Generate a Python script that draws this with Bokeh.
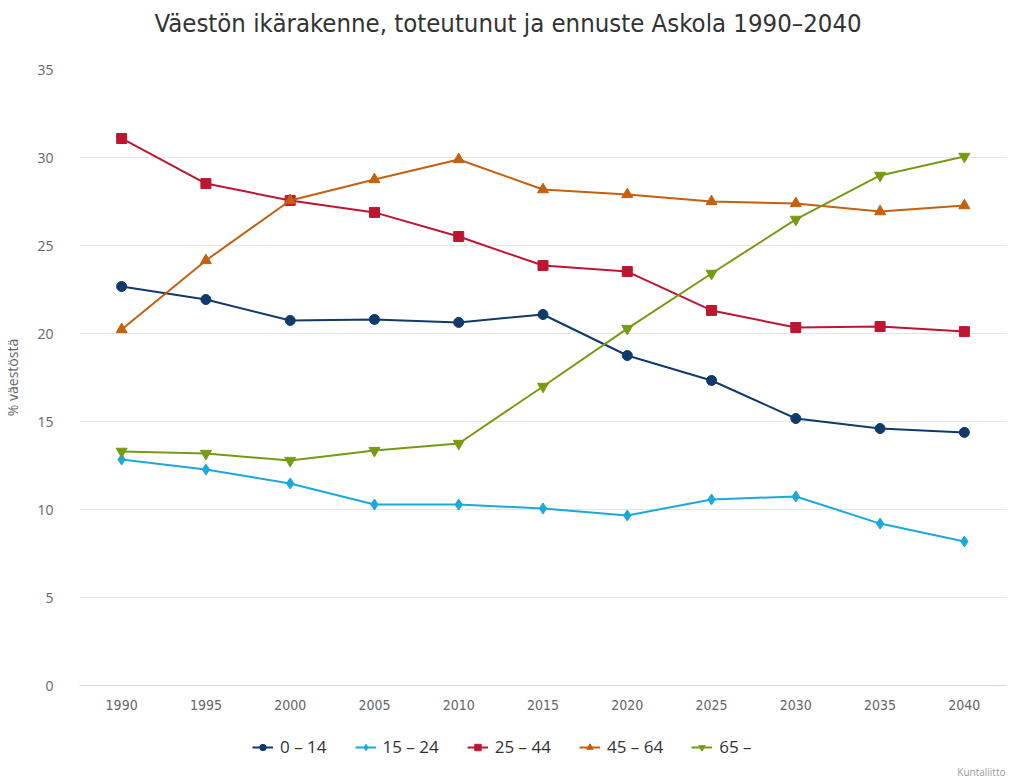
from bokeh.plotting import figure
from bokeh.layouts import column
from bokeh.models import Legend, LegendItem, Label, Range1d, FixedTicker
from bokeh.embed import file_html
from bokeh.resources import INLINE

years = [1990, 1995, 2000, 2005, 2010, 2015, 2020, 2025, 2030, 2035, 2040]
age_0_14 = [22.67, 21.93, 20.74, 20.80, 20.63, 21.08, 18.75, 17.33, 15.17, 14.60, 14.38]
age_15_24 = [12.84, 12.27, 11.48, 10.28, 10.28, 10.06, 9.66, 10.57, 10.74, 9.20, 8.18]
age_25_44 = [31.08, 28.52, 27.56, 26.88, 25.51, 23.86, 23.52, 21.31, 20.34, 20.40, 20.11]
age_45_64 = [20.23, 24.15, 27.56, 28.75, 29.89, 28.18, 27.90, 27.50, 27.39, 26.93, 27.27]
age_65 = [13.30, 13.18, 12.78, 13.35, 13.75, 16.99, 20.28, 23.41, 26.48, 28.98, 30.06]
y_ticks = [0, 5, 10, 15, 20, 25, 30, 35]

series_names = ["0 – 14", "15 – 24", "25 – 44", "45 – 64", "65 –"]
series_values = [age_0_14, age_15_24, age_25_44, age_45_64, age_65]
colors = ["#0f3a6b", "#1ba9dc", "#be1531", "#c4600e", "#769b13"]
markers = ["circle", "diamond", "square", "triangle", "inverted_triangle"]
msizes = [10, 11, 10, 11, 11]

title_text = "Väestön ikärakenne, toteutunut ja ennuste Askola 1990–2040"


def strip(height):
    f = figure(width=1008, height=height, output_backend="svg", toolbar_location=None,
               x_range=Range1d(1987.5, 2042.5), y_range=Range1d(0, 35),
               min_border=0, x_axis_location=None, y_axis_location=None)
    f.outline_line_color = None
    f.xgrid.grid_line_color = None
    f.ygrid.grid_line_color = None
    return f


# title strip
t = strip(45)
t.add_layout(Label(x=75, y=23, x_units="screen", y_units="screen", text=title_text,
                   text_font="DejaVu Sans Condensed", text_font_size="25.5px",
                   text_color="#333333", text_align="left", text_baseline="middle"))

# main chart
p = figure(width=1008, height=675, output_backend="svg", toolbar_location=None,
           x_range=Range1d(1987.5, 2042.5), y_range=Range1d(0, 35),
           min_border_left=78, min_border_right=2, min_border_top=24, min_border_bottom=35)
p.outline_line_color = None
p.background_fill_color = "white"

for name, vals, col, mk, ms in zip(series_names, series_values, colors, markers, msizes):
    p.line(years, vals, line_color=col, line_width=2)
    p.scatter(years, vals, marker=mk, size=ms, fill_color=col, line_color=col)

p.xaxis.ticker = FixedTicker(ticks=years)
p.xaxis.axis_line_color = "#ccd6eb"
p.xaxis.axis_line_width = 1
p.xaxis.major_tick_line_color = None
p.xaxis.minor_tick_line_color = None
p.xaxis.major_label_text_font = "DejaVu Sans Condensed"
p.xaxis.major_label_text_font_size = "14px"
p.xaxis.major_label_text_color = "#666666"
p.xaxis.major_label_standoff = 8

p.yaxis.ticker = FixedTicker(ticks=y_ticks)
p.yaxis.axis_line_color = None
p.yaxis.major_tick_line_color = None
p.yaxis.minor_tick_line_color = None
p.yaxis.major_label_text_font = "Open Sans"
p.yaxis.major_label_text_font_size = "14px"
p.yaxis.major_label_text_color = "#666666"
p.yaxis.major_label_standoff = 20
p.yaxis.axis_label = "% väestöstä"
p.yaxis.axis_label_text_font = "Open Sans"
p.yaxis.axis_label_text_font_size = "14px"
p.yaxis.axis_label_text_font_style = "normal"
p.yaxis.axis_label_text_color = "#666666"
p.yaxis.axis_label_standoff = 12

p.xgrid.grid_line_color = None
p.ygrid.grid_line_color = "#e6e6e6"
p.ygrid.grid_line_width = 1

# legend strip below the chart
q = strip(58)
items = []
for name, vals, col, mk, ms in zip(series_names, series_values, colors, markers, msizes):
    ln = q.line(years, vals, line_color=col, line_width=2, visible=False)
    sc = q.scatter(years, vals, marker=mk, size=ms, fill_color=col, line_color=col, visible=False)
    items.append(LegendItem(label=name, renderers=[ln, sc]))

legend = Legend(items=items, orientation="horizontal", location=(173, 20),
                border_line_color=None, background_fill_alpha=0,
                inactive_fill_alpha=0,
                label_text_font="Open Sans", label_text_font_size="17px",
                label_text_color="#333333", glyph_width=21, glyph_height=16,
                label_standoff=7, spacing=28, margin=0, padding=4)
q.add_layout(legend, "center")

credit = Label(x=926, y=7, x_units="screen", y_units="screen", text="Kuntaliitto",
               text_font="Open Sans", text_font_size="10px", text_color="#999999",
               text_align="right", text_baseline="middle")
q.add_layout(credit)

layout = column(t, p, q, spacing=0)
open("out.html", "w").write(file_html(layout, INLINE))
